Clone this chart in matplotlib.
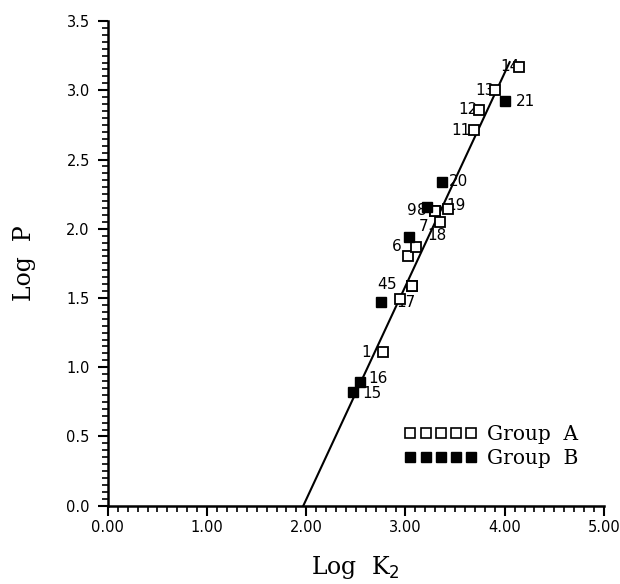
import numpy as np
import matplotlib
matplotlib.use("Agg")
import matplotlib.pyplot as plt
from matplotlib.ticker import MultipleLocator, FormatStrFormatter
from matplotlib.lines import Line2D

# Group A (open squares), compounds 1-14
a_x = [2.77, 3.03, 2.94, 3.07, 3.07, 3.11, 3.35, 3.30, 3.30, 3.43, 3.69, 3.74, 3.90, 4.14]
a_y = [1.11, 1.80, 1.49, 1.59, 1.59, 1.87, 2.05, 2.13, 2.13, 2.14, 2.71, 2.86, 3.00, 3.17]
a_lab = ["1", "", "", "4", "5", "6", "7", "8", "9", "", "11", "12", "13", "14"]

# Group B (filled squares), compounds 15-21
b_x = [2.47, 2.54, 2.75, 3.04, 3.22, 3.37, 4.00]
b_y = [0.82, 0.89, 1.47, 1.94, 2.16, 2.34, 2.92]
b_lab = ["15", "16", "17", "18", "19", "20", "21"]

# regression line  log P = slope * (log K2 - x0)
slope = 1.54
x0 = 1.97
fit_x = [1.97, 4.05]

# label offsets (points) relative to each marker
a_off = [(-12, 0), (0, 0), (0, 0), (-22, 1), (-15, 1), (-14, 0), (-12, -3),
         (-10, 0), (-17, 0), (0, 0), (-9, 0), (-8, 0), (-7, 0), (-6, 0)]
b_off = [(14, -1), (13, 3), (18, 0), (20, 1), (21, 1), (12, 0), (15, 0)]

fig = plt.figure(figsize=(6.2, 5.84), dpi=100)
ax = fig.add_axes([0.174, 0.134, 0.800, 0.830])

fx = np.array(fit_x)
ax.plot(fx, slope * (fx - x0), color="black", lw=1.5, zorder=2)

ax.plot(a_x, a_y, ls="none", marker="s", ms=7.5, mfc="white", mec="black",
        mew=1.3, zorder=3)
ax.plot(b_x, b_y, ls="none", marker="s", ms=7.5, mfc="black", mec="black",
        zorder=3)

for x, y, s, (dx, dy) in zip(a_x, a_y, a_lab, a_off):
    if s:
        ax.annotate(s, (x, y), xytext=(dx, dy), textcoords="offset points",
                    ha="center", va="center", fontsize=11, zorder=1)
for x, y, s, (dx, dy) in zip(b_x, b_y, b_lab, b_off):
    ax.annotate(s, (x, y), xytext=(dx, dy), textcoords="offset points",
                ha="center", va="center", fontsize=11, zorder=1)

ax.set_xlim(0, 5)
ax.set_ylim(0, 3.5)
ax.xaxis.set_major_locator(MultipleLocator(1))
ax.xaxis.set_minor_locator(MultipleLocator(0.1))
ax.yaxis.set_major_locator(MultipleLocator(0.5))
ax.yaxis.set_minor_locator(MultipleLocator(0.05))
ax.xaxis.set_major_formatter(FormatStrFormatter("%.2f"))
ax.yaxis.set_major_formatter(FormatStrFormatter("%.1f"))
ax.tick_params(which="major", length=7, width=1.5, labelsize=10.5)
ax.tick_params(axis="x", which="major", pad=3)
ax.tick_params(axis="y", which="major", pad=6)
ax.tick_params(which="minor", length=4, width=1.2)

for side in ["top", "right"]:
    ax.spines[side].set_visible(False)
for side in ["left", "bottom"]:
    ax.spines[side].set_linewidth(1.8)

ax.set_xlabel("Log  K$_2$", family="DejaVu Serif", fontsize=17, labelpad=14)
ax.set_ylabel("Log  P", family="DejaVu Serif", fontsize=17, labelpad=22)

handles = [
    Line2D([], [], ls="none", marker="s", ms=6.5, mfc="white", mec="black", mew=1.2),
    Line2D([], [], ls="none", marker="s", ms=6.5, mfc="black", mec="black"),
]
ax.legend(handles, ["Group  A", "Group  B"], loc="lower right",
          bbox_to_anchor=(0.985, 0.04), numpoints=5, frameon=False,
          handlelength=3.6, handletextpad=0.5, labelspacing=0.25,
          prop={"family": "DejaVu Serif", "size": 14.5})

fig.savefig("out.png", dpi=100)
